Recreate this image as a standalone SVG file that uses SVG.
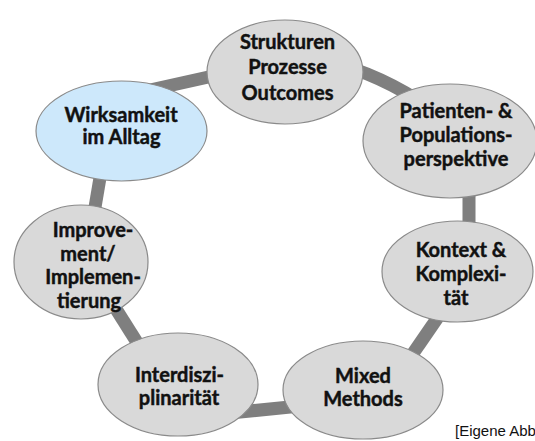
<svg xmlns="http://www.w3.org/2000/svg" width="535" height="441" viewBox="0 0 535 441">
<style>
.ring{fill:none;stroke:#7f7f7f;stroke-width:13}
.node{fill:#d9d9d9;stroke:#8a8a8a;stroke-width:1.2}
.blue{fill:#cde8fb}
.t{font-family:Lato,"Open Sans","DejaVu Sans",sans-serif;font-weight:bold;font-size:20px;fill:#111;stroke:#111;stroke-width:0.45;text-anchor:middle}
.note{font-family:"Liberation Sans",Arial,sans-serif;font-size:15px;fill:#111}
</style>
<rect width="535" height="441" fill="#fff"/>
<g id="connectors">
<path class="ring" d="M150,90 L240,70"/>
<path class="ring" d="M330,62 Q380,74 430,108"/>
<path class="ring" d="M469,170 L469,240"/>
<path class="ring" d="M445,307 L405,365"/>
<path class="ring" d="M230,413 L310,405"/>
<path class="ring" d="M104,290 L150,363"/>
<path class="ring" d="M103,160 L92,225"/>
</g>
<g id="n-strukturen">
<ellipse class="node" cx="285" cy="72" rx="78" ry="52"/>
<text class="t" x="287.5" y="49">Strukturen</text>
<text class="t" x="287.5" y="74">Prozesse</text>
<text class="t" x="287.5" y="100">Outcomes</text>
</g>
<g id="n-patienten">
<ellipse class="node" cx="450" cy="141" rx="87" ry="57"/>
<text class="t" x="456" y="118">Patienten- &amp;</text>
<text class="t" x="456" y="142">Populations-</text>
<text class="t" x="456" y="166">perspektive</text>
</g>
<g id="n-kontext">
<ellipse class="node" cx="457.5" cy="271.5" rx="75.5" ry="50.5"/>
<text class="t" x="461" y="257">Kontext &amp;</text>
<text class="t" x="461" y="281">Komplexi-</text>
<text class="t" x="456" y="304.5">tät</text>
</g>
<g id="n-mixed">
<ellipse class="node" cx="363" cy="390" rx="80" ry="49"/>
<text class="t" x="363" y="383">Mixed</text>
<text class="t" x="363" y="406">Methods</text>
</g>
<g id="n-interdisziplinaritaet">
<ellipse class="node" cx="178" cy="384.5" rx="80" ry="51.5"/>
<text class="t" x="179.5" y="382">Interdiszi-</text>
<text class="t" x="179" y="405">plinarität</text>
</g>
<g id="n-improvement">
<ellipse class="node" cx="81" cy="262" rx="67" ry="57"/>
<text class="t" x="93" y="237">Improve-</text>
<text class="t" x="88" y="260.5">ment/</text>
<text class="t" x="93" y="284">Implemen-</text>
<text class="t" x="89" y="307.5">tierung</text>
</g>
<g id="n-wirksamkeit">
<ellipse class="node blue" cx="121.5" cy="131" rx="85.5" ry="50"/>
<text class="t" x="121" y="122">Wirksamkeit</text>
<text class="t" x="121.5" y="144">im Alltag</text>
</g>
<text class="note" x="455" y="436">[Eigene Abb</text>
</svg>
